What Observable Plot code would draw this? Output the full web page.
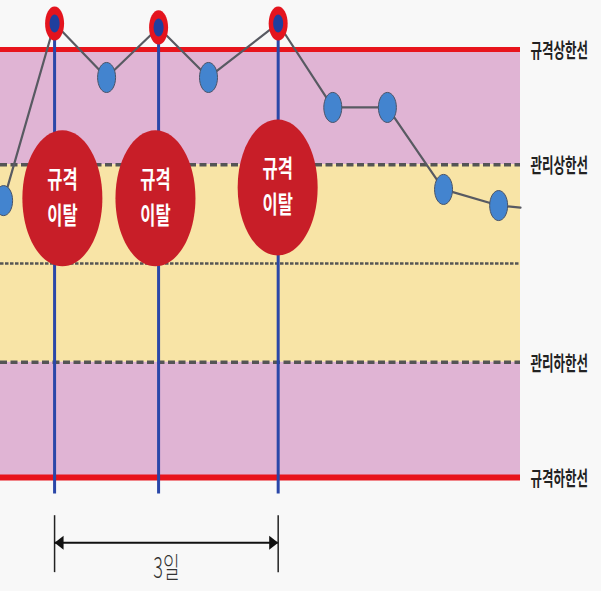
<!DOCTYPE html>
<html><head><meta charset="utf-8">
<script src="https://cdn.jsdelivr.net/npm/d3@7"></script>
<script src="https://cdn.jsdelivr.net/npm/@observablehq/plot@0.6"></script>
<style>
html,body{margin:0;padding:0;background:#f8f8f8;}
#chart svg{display:block;}
</style></head><body><div id="chart"></div>
<script>
// ---- data ----
const days = [0.02, 1.0, 2.0, 3.0, 3.96, 5.3, 6.35, 7.4, 8.48, 9.54];
const values = [1.91, 7.29, 5.65, 7.17, 5.65, 7.29, 4.74, 4.74, 2.25, 1.76];
const tailDay = 9.96, tailValue = 1.70;           // line continues to the right edge
const limitNames = ["규격상한선", "관리상한선", "관리하한선", "규격하한선"];
const limitValues = [6.5, 3, -3, -6.5];
const centerValue = 0;
const calloutLines = ["규격", "이탈"];
const calloutDays = [1.15, 2.94, 5.29];
const calloutValues = [1.98, 1.98, 2.31];
const spanLabel = "3일";
const spanFrom = 1.0, spanTo = 5.3;
const xDomain = [-0.04, 9.96];

// ---- derived tables ----
const pts = days.map((d, i) => ({day: d, value: values[i]}));
const linePts = pts.concat([{day: tailDay, value: tailValue}]);
const USL = limitValues[0], UCL = limitValues[1], LCL = limitValues[2], LSL = limitValues[3];
const outPts = pts.filter(p => p.value > USL || p.value < LSL);
const inPts = pts.filter(p => !(p.value > USL || p.value < LSL));
const limits = limitNames.map((n, i) => ({name: n, value: limitValues[i]}));
const callouts = calloutDays.map((d, i) => ({day: d, value: calloutValues[i]}));
const bands = [
  {y1: UCL, y2: USL, c: "#e0b4d4"},
  {y1: LCL, y2: UCL, c: "#f8e4a6"},
  {y1: LSL, y2: LCL, c: "#e0b4d4"}
];

// ellipse symbol (picture is stretched vertically)
function ellipse(k) {
  return {draw(ctx, size) {
    const rx = Math.sqrt(size / Math.PI), ry = rx * k, c = 0.5522847498;
    ctx.moveTo(rx, 0);
    ctx.bezierCurveTo(rx, ry * c, rx * c, ry, 0, ry);
    ctx.bezierCurveTo(-rx * c, ry, -rx, ry * c, -rx, 0);
    ctx.bezierCurveTo(-rx, -ry * c, -rx * c, -ry, 0, -ry);
    ctx.bezierCurveTo(rx * c, -ry, rx, -ry * c, rx, 0);
    ctx.closePath();
  }};
}
const headRight = {draw(ctx) { ctx.moveTo(0, 0); ctx.lineTo(-9, -7); ctx.lineTo(-9, 7); ctx.closePath(); }};
const headLeft = {draw(ctx) { ctx.moveTo(0, 0); ctx.lineTo(9, -7); ctx.lineTo(9, 7); ctx.closePath(); }};

const font = "'Noto Sans CJK KR', 'Noto Sans', sans-serif";
const arrowY = -8.48;

const svg = Plot.plot({
  width: 601,
  height: 591,
  marginLeft: 0, marginRight: 81, marginTop: 0, marginBottom: 0,
  x: {domain: xDomain, axis: null},
  y: {domain: [LSL, USL], range: [477, 49], axis: null},
  style: {background: "#f8f8f8", fontFamily: font},
  marks: [
    ...bands.map(b => Plot.rect([b], {x1: () => xDomain[0], x2: () => xDomain[1], y1: "y1", y2: "y2", fill: b.c})),
    Plot.ruleY([centerValue], {stroke: "#555", strokeWidth: 2.5, strokeDasharray: "3.5,1.5"}),
    Plot.ruleY([UCL, LCL], {stroke: "#555", strokeWidth: 3.5, strokeDasharray: "7,3.5"}),
    Plot.ruleY([USL], {stroke: "#e8141c", strokeWidth: 5}),
    Plot.ruleY([LSL], {stroke: "#e8141c", strokeWidth: 6}),
    Plot.ruleX(outPts, {x: "day", y1: "value", y2: () => -7.0, stroke: "#2b47a8", strokeWidth: 3}),
    Plot.line(linePts, {x: "day", y: "value", stroke: "#585a62", strokeWidth: 2.2}),
    Plot.dot(inPts, {x: "day", y: "value", r: 9, symbol: ellipse(1.67), fill: "#4384cf", stroke: "#4a5468", strokeWidth: 1}),
    Plot.dot(outPts, {x: "day", y: "value", r: 9.5, symbol: ellipse(1.8), fill: "#e4141e"}),
    Plot.dot(outPts, {x: "day", y: "value", r: 5, symbol: ellipse(1.8), fill: "#1f3f9e"}),
    Plot.dot(callouts, {x: "day", y: "value", r: 40, symbol: ellipse(1.7), fill: "#c81e28"}),
    Plot.text(callouts, {x: "day", y: "value", text: () => calloutLines[0], dy: -18, fill: "white", fontSize: 16.5, fontWeight: "bold"}),
    Plot.text(callouts, {x: "day", y: "value", text: () => calloutLines[1], dy: 18, fill: "white", fontSize: 16.5, fontWeight: "bold"}),
    Plot.text(limits, {x: () => xDomain[1], y: "value", text: "name", dx: 10, dy: 2, textAnchor: "start", fontSize: 12.5, fontWeight: "bold", fill: "#222"}),
    Plot.ruleX([spanFrom, spanTo], {y1: () => -7.66, y2: () => -9.39, stroke: "#222", strokeWidth: 1.5}),
    Plot.ruleY([arrowY], {x1: () => spanFrom, x2: () => spanTo, stroke: "#111", strokeWidth: 2}),
    Plot.dot([arrowY], {x: () => spanFrom, y: d => d, r: 5, symbol: headLeft, fill: "#111"}),
    Plot.dot([arrowY], {x: () => spanTo, y: d => d, r: 5, symbol: headRight, fill: "#111"}),
    Plot.text([spanLabel], {x: () => (spanFrom + spanTo) / 2, y: () => -9.27, text: d => d, fontSize: 18, fontWeight: 300, fill: "#333"})
  ]
});

// stretch text vertically like the reference picture
svg.querySelectorAll("text").forEach(t => {
  let tr = t.getAttribute("transform") || "";
  const x = t.getAttribute("x"), y = t.getAttribute("y");
  if (!/translate/.test(tr) && x != null && !/em$/.test(x) && y != null && !/em$/.test(y)) {
    tr = `translate(${x},${y}) ` + tr;
    t.removeAttribute("x"); t.removeAttribute("y");
  }
  const fs = (t.closest("[font-size]") || t).getAttribute("font-size");
  const k = fs === "16.5" ? 1.45 : 1.6;
  t.setAttribute("transform", tr + ` scale(1,${k})`);
});

document.getElementById("chart").appendChild(svg);
</script>
</body></html>
